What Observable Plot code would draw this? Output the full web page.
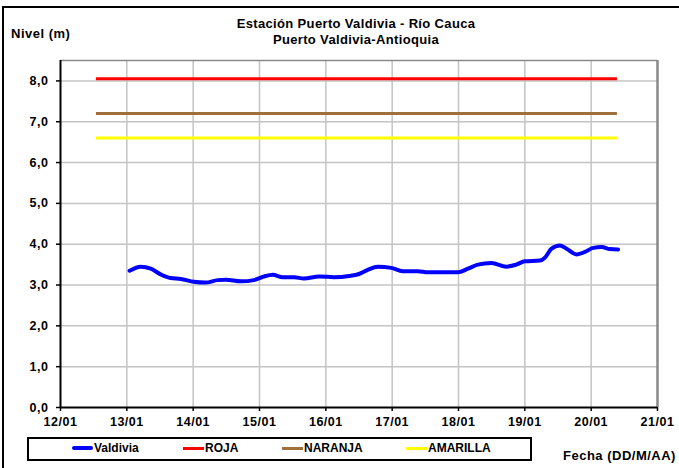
<!DOCTYPE html>
<html><head><meta charset="utf-8">
<script src="https://cdn.jsdelivr.net/npm/d3@7"></script>
<script src="https://cdn.jsdelivr.net/npm/@observablehq/plot@0.6"></script>
<style>
body{margin:0;background:#fff;}
#wrap{position:relative;width:679px;height:468px;overflow:hidden;font-family:"Liberation Sans",Arial,sans-serif;font-weight:bold;color:#000;background:#fff;}
#frame{position:absolute;left:2px;top:6px;width:720px;height:520px;border:2px solid #000;box-sizing:border-box;}
#chart{position:absolute;left:0;top:0;}
.t{position:absolute;white-space:nowrap;line-height:1;}
.title{font-size:13px;letter-spacing:0.35px;transform:translateX(-50%);}
#legend{position:absolute;left:27px;top:437px;width:505px;height:24px;border:2px solid #000;box-sizing:border-box;}
.sw{position:absolute;height:3px;width:21px;top:446.5px;}
.lt{position:absolute;top:442px;font-size:12px;line-height:1;white-space:nowrap;}
</style>
</head><body>
<div id="wrap">
  <div id="frame"></div>
  <div id="chart"></div>
  <div class="t title" style="left:356px;top:17px;">Estación Puerto Valdivia - Río Cauca</div>
  <div class="t title" style="left:356px;top:33px;">Puerto Valdivia-Antioquia</div>
  <div class="t" style="left:11px;top:27px;font-size:13px;letter-spacing:0.5px;">Nivel (m)</div>
  <div class="t" style="left:563px;top:449px;font-size:13px;letter-spacing:0.5px;">Fecha (DD/M/AA)</div>
  <div id="legend"></div>
  <div id="legendItems"></div>
</div>
<script>
// ---- data ----
const times = [
  "2011-01-13T01:00","2011-01-13T05:00","2011-01-13T08:40","2011-01-13T12:15","2011-01-13T15:50","2011-01-13T19:30",
  "2011-01-14T00:15","2011-01-14T04:30","2011-01-14T08:50","2011-01-14T11:50","2011-01-14T17:15","2011-01-14T22:00",
  "2011-01-15T01:40","2011-01-15T04:50","2011-01-15T08:25","2011-01-15T12:35","2011-01-15T16:05","2011-01-15T21:35",
  "2011-01-16T02:55","2011-01-16T08:25","2011-01-16T12:00","2011-01-16T15:10","2011-01-16T18:45","2011-01-16T23:40",
  "2011-01-17T03:50","2011-01-17T09:15","2011-01-17T12:55","2011-01-17T17:50","2011-01-17T23:50",
  "2011-01-18T03:25","2011-01-18T07:00","2011-01-18T11:55","2011-01-18T17:20","2011-01-18T20:55",
  "2011-01-19T00:00","2011-01-19T05:25","2011-01-19T07:15","2011-01-19T09:40","2011-01-19T12:40","2011-01-19T15:05",
  "2011-01-19T18:45","2011-01-19T21:45","2011-01-20T00:45","2011-01-20T03:50","2011-01-20T06:45","2011-01-20T09:45"
];
const niveles = [
  3.35,3.45,3.40,3.26,3.17,3.15,
  3.08,3.06,3.12,3.13,3.09,3.12,
  3.21,3.25,3.19,3.19,3.16,3.21,
  3.19,3.22,3.27,3.37,3.45,3.42,
  3.34,3.34,3.31,3.31,3.31,
  3.40,3.50,3.54,3.45,3.50,
  3.58,3.60,3.67,3.89,3.97,3.89,
  3.75,3.81,3.91,3.93,3.88,3.87
];
const seriesNames = ["Valdivia","ROJA","NARANJA","AMARILLA"];
const alertNames = ["ROJA","NARANJA","AMARILLA"];
const alertValues = [8.05, 7.2, 6.6];
const alertStart = "2011-01-12T13:00";
const alertEnd = "2011-01-20T09:30";
const xDomain = ["2011-01-12T00:00","2011-01-21T00:00"];
const xTickDates = ["2011-01-12T00:00","2011-01-13T00:00","2011-01-14T00:00","2011-01-15T00:00","2011-01-16T00:00",
                    "2011-01-17T00:00","2011-01-18T00:00","2011-01-19T00:00","2011-01-20T00:00","2011-01-21T00:00"];
const yTicks = [0,1,2,3,4,5,6,7,8];
const yMax = 8.5;

// ---- styles ----
const seriesColors = ["#0000ff","#ff0000","#a0703c","#ffff00"];

const parse = d3.utcParse("%Y-%m-%dT%H:%M");
const data = times.map((t,i)=>({date:parse(t), nivel:niveles[i], serie:"Valdivia"}));
const alerts = alertNames.map((n,i)=>({name:n, value:alertValues[i], x1:parse(alertStart), x2:parse(alertEnd)}));
const xTicks = xTickDates.map(parse);
const [x0, x1] = xDomain.map(parse);

const chart = Plot.plot({
  width: 679, height: 468,
  marginLeft: 60, marginRight: 22, marginTop: 60, marginBottom: 61,
  x: {type:"utc", domain:[x0,x1]},
  y: {domain:[0,yMax]},
  color: {domain: seriesNames, range: seriesColors},
  style: "font-family:'Liberation Sans',Arial,sans-serif;font-size:12.5px;font-weight:bold;letter-spacing:0.5px;color:#000;background:transparent;overflow:visible;",
  marks: [
    Plot.gridX(xTicks.slice(1,-1), {stroke:"#c4c4c4", strokeOpacity:1, strokeWidth:1.5}),
    Plot.gridY(yTicks.slice(1), {stroke:"#c4c4c4", strokeOpacity:1, strokeWidth:1.5}),
    Plot.ruleY([yMax], {stroke:"#8a8a8a", strokeWidth:1.5}),
    Plot.ruleX([x1], {stroke:"#888888", strokeWidth:2.5}),
    Plot.ruleY(alerts, {y:"value", x1:"x1", x2:"x2", stroke:"name", strokeWidth:3}),
    Plot.line(data, {x:"date", y:"nivel", stroke:"serie", strokeWidth:4, curve:"monotone-x"}),
    Plot.ruleX([x0], {stroke:"#000", strokeWidth:2}),
    Plot.ruleY([0], {stroke:"#000", strokeWidth:2}),
    Plot.axisX(xTicks, {tickFormat:d3.utcFormat("%d/%m"), tickSize:4, tickPadding:6, label:null, strokeWidth:1.5}),
    Plot.axisY(yTicks, {tickFormat:d=>d.toFixed(1).replace(".",","), tickSize:4, tickPadding:8, label:null, strokeWidth:1.5})
  ]
});
document.getElementById("chart").appendChild(chart);

// legend
const legendX = [72, 183, 282, 406];
const li = document.getElementById("legendItems");
seriesNames.forEach((n,i)=>{
  const sw = document.createElement("div");
  sw.className = "sw";
  sw.style.left = legendX[i] + "px";
  sw.style.background = seriesColors[i];
  if (i===0) { sw.style.height = "4px"; sw.style.top = "446px"; sw.style.borderRadius = "2px"; }
  li.appendChild(sw);
  const t = document.createElement("div");
  t.className = "lt";
  t.style.left = (legendX[i] + 22) + "px";
  t.textContent = n;
  li.appendChild(t);
});
</script>
</body></html>
